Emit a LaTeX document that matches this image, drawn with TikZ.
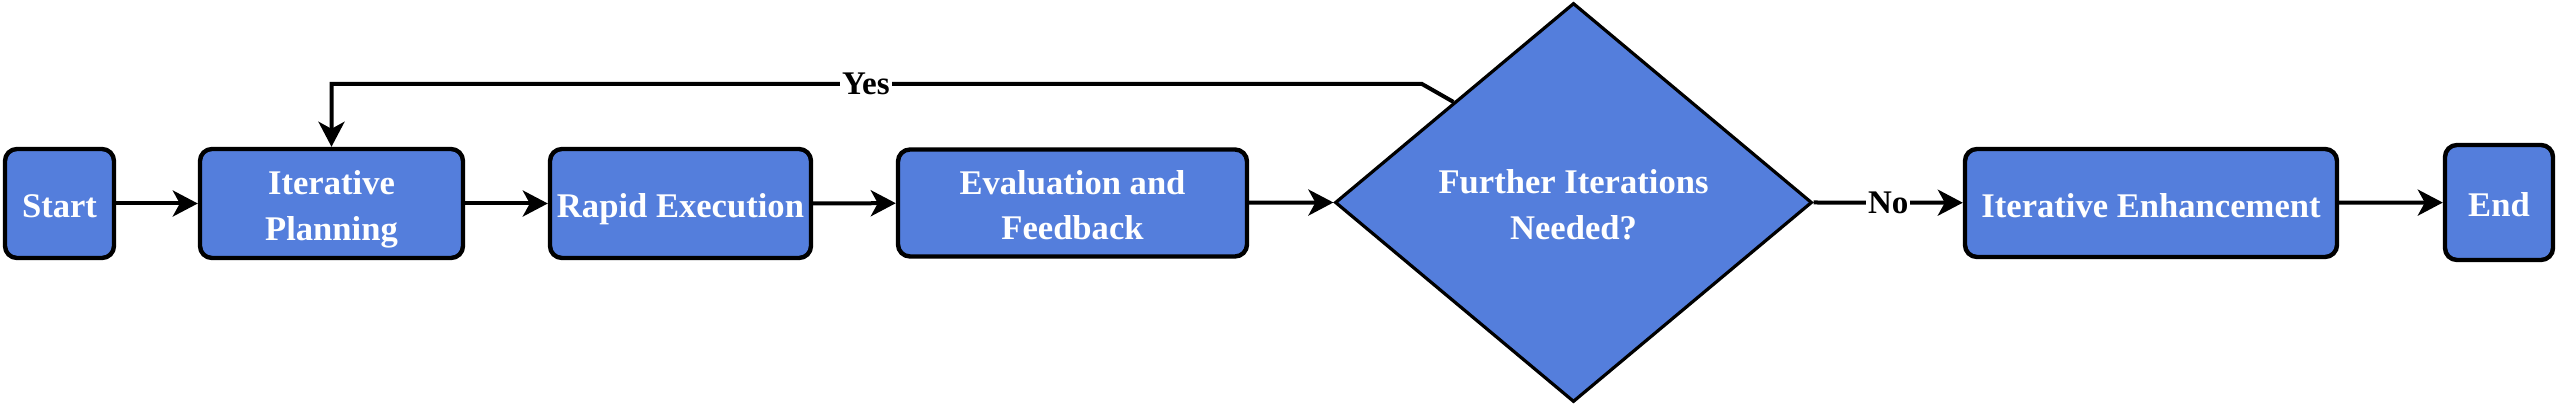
\documentclass[tikz,border=0pt]{standalone}
\usepackage{fontspec}
\setmainfont{Liberation Serif}
\usetikzlibrary{shapes.geometric,arrows.meta,calc}
\definecolor{boxblue}{RGB}{84,126,220}
\newcommand\lowtext[1]{\raisebox{-2.5pt}[\height][\depth]{\begin{tabular}{@{}c@{}}#1\end{tabular}}}
\begin{document}
\begin{tikzpicture}[x=0.5pt,y=-0.5pt,
  txt/.style={text=white, align=center, inner sep=0pt, font=\fontsize{17.3pt}{22.8pt}\selectfont\bfseries},
  box/.style={txt, draw=black, line width=2.2pt, fill=boxblue, rounded corners=6pt},
  decision/.style={txt, diamond, draw=black, line width=1.6pt, fill=boxblue},
  conn/.style={line width=2pt, -{Stealth[length=12.5pt,width=13pt,inset=3.5pt]}},
  lbl/.style={fill=white, inner sep=1pt, text=black, font=\fontsize{16.5pt}{19pt}\selectfont\bfseries}]
\useasboundingbox (0,0) rectangle (2560,410);
\fill[white] (0,0) rectangle (2560,410);

\node[box, minimum width=54.5pt, minimum height=54.5pt] (start) at (59.5,203.5) {\lowtext{Start}};
\node[box, minimum width=131.5pt, minimum height=54.5pt] (ip) at (331.5,203.5) {\lowtext{Iterative\\Planning}};
\node[box, minimum width=130.5pt, minimum height=54.5pt] (re) at (680.5,203.5) {\lowtext{Rapid Execution}};
\node[box, minimum width=174.5pt, minimum height=53.5pt] (ef) at (1072.5,203) {\lowtext{Evaluation and\\Feedback}};
\node[decision, minimum width=238.5pt, minimum height=199.5pt] (dec) at (1573.5,202.5) {\lowtext{Further Iterations\\Needed?}};
\node[box, minimum width=186pt, minimum height=54pt] (ie) at (2151,203) {\lowtext{Iterative Enhancement}};
\node[box, minimum width=54pt, minimum height=57.5pt] (end) at (2499,202.5) {\lowtext{End}};

\coordinate (decmid) at ($(dec.west)!0.5!(dec.north)$);
\coordinate (bend) at (1422,84);
\coordinate (over) at (ip.north |- bend);

\draw[conn] (start) -- (ip);
\draw[conn] (ip) -- (re);
\draw[conn] (re) -- (ef);
\draw[conn] (ef) -- (dec.west);
\draw[conn] (dec.east) -- node[lbl] {No} (ie);
\draw[conn] (ie) -- (end);
\draw[conn] (decmid) -- (bend) -- node[lbl, pos=0.51] {Yes} (over) -- (ip.north);
\end{tikzpicture}
\end{document}
